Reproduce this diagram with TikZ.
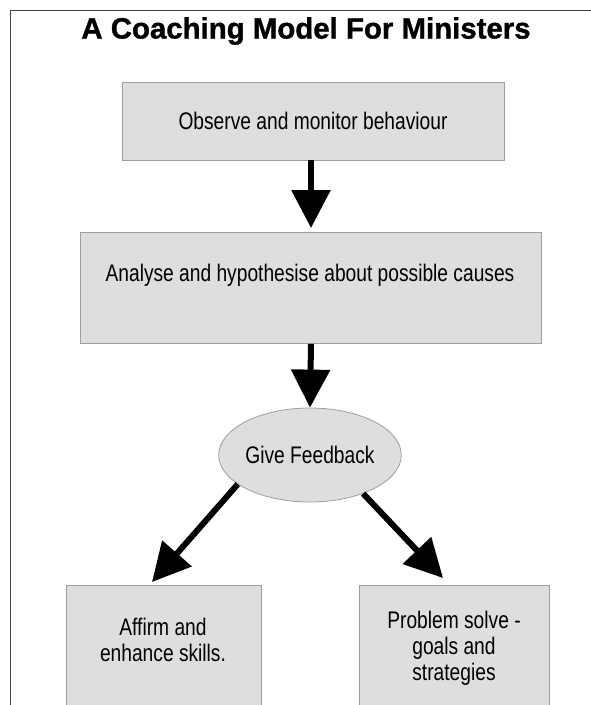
\documentclass[tikz,border=0pt]{standalone}
\usepackage{fontspec}
\setmainfont{Liberation Sans}
\newfontfamily\bodyfont[FakeStretch=0.8]{Liberation Sans}
\newfontfamily\titlefont[FakeBold=1.2]{Liberation Sans Bold}
\usetikzlibrary{arrows.meta,shapes.geometric}
\begin{document}
\begin{tikzpicture}[x=1pt,y=-1pt,
  bodytext/.style={font=\bodyfont\fontsize{24}{26}\selectfont,align=center},
  stage/.style={draw=black!38,line width=0.8pt,fill=black!13,bodytext,inner sep=0pt},
  flow/.style={line width=6pt,-{Triangle[width=38pt,length=38pt]}},
]
\useasboundingbox (0,0) rectangle (590,705);
% outer frame, only its top and left edges fall inside the page
\draw[line width=0.8pt,black!75] (10,720) -- (10,10) -- (600,10);

\node[font=\titlefont\fontsize{29.4}{34}\selectfont] (title) at (306,31) {A Coaching Model For Ministers};

\node[stage,minimum width=382pt,minimum height=78pt] (observe) at (313,121) {Observe and monitor behaviour};
\node[stage,minimum width=461pt,minimum height=111pt,anchor=north west] (analyse) at (80,232) {};
\node[bodytext] (analysetext) at (310,275) {Analyse and hypothesise about possible causes};
\node[stage,ellipse,minimum width=180pt,minimum height=94pt] (feedback) at (310,455) {Give Feedback};
\node[stage,anchor=north west,minimum width=195pt,minimum height=140pt] (affirm) at (66,585) {};
\node[bodytext] (affirmtext) at (163,640) {Affirm and\\enhance skills.};
\node[stage,anchor=north west,minimum width=190pt,minimum height=140pt] (solve) at (359,585) {};
\node[bodytext] (solvetext) at (454,648) {Problem solve -\\goals and\\strategies};

\coordinate (ltip) at (152,582);
\coordinate (rtip) at (443,578);

\draw[flow] (observe.south -| 311,0) -- (311,228);
\draw[flow] (analyse.south -| 311,0) -- (feedback.north);
\draw[flow] (feedback.-158) -- (ltip);
\draw[flow] (feedback.-36) -- (rtip);
\end{tikzpicture}
\end{document}
